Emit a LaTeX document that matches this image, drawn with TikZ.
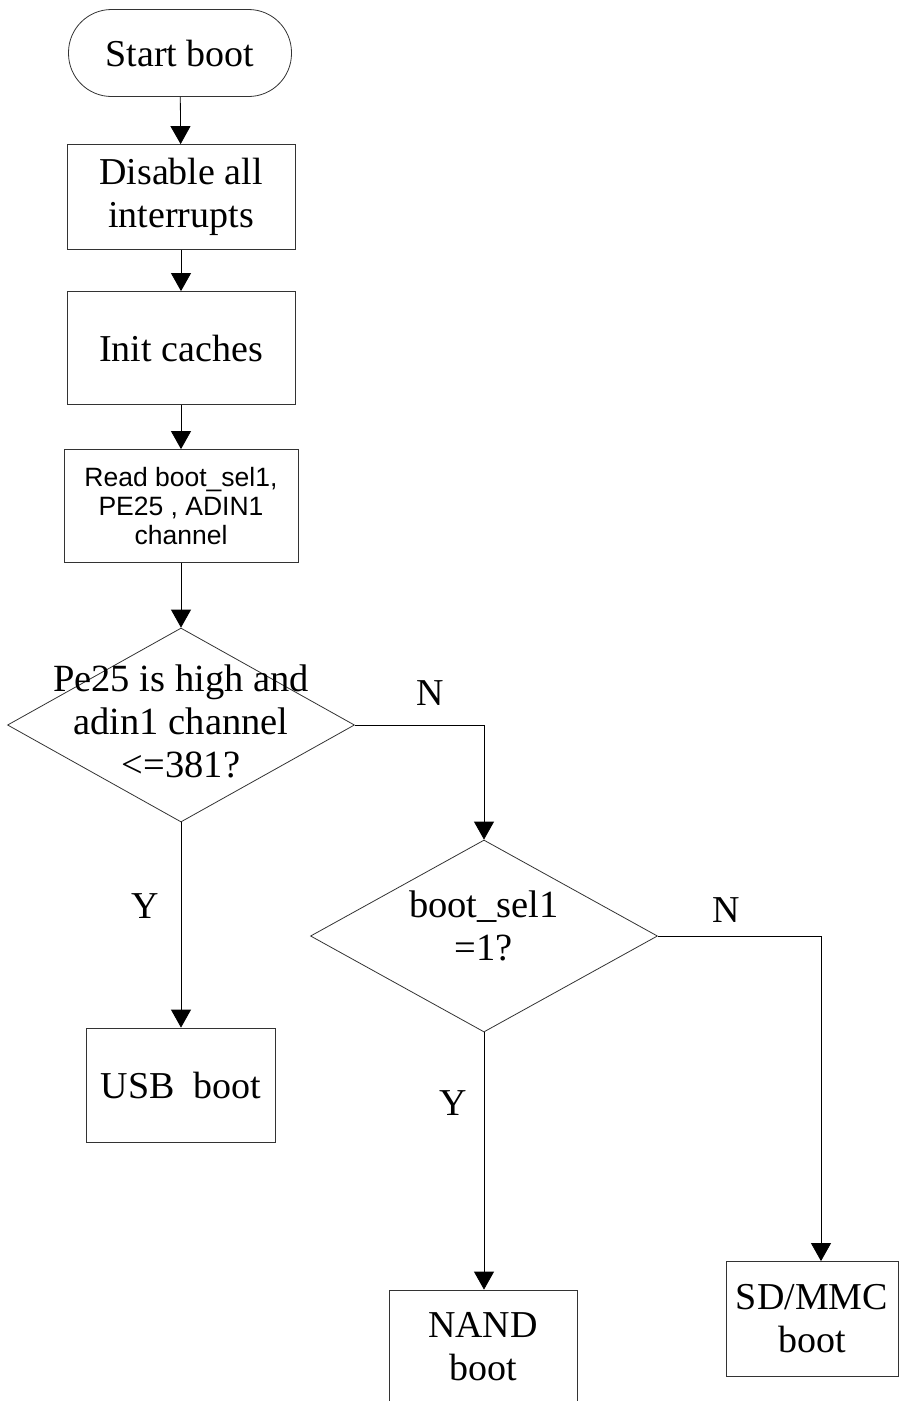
\documentclass[tikz,border=0pt]{standalone}
\usepackage{fontspec}
\setmainfont{Liberation Serif}
\newfontfamily\arialfont{Liberation Sans}
\usetikzlibrary{arrows.meta,shapes.geometric,positioning}
\tikzset{every picture/.style={line width=0.8pt}}
\tikzset{
  box/.style={draw=black!80, rectangle, inner sep=0pt, align=center, font=\fontsize{38}{43}\selectfont},
  decision/.style={draw=black!80, diamond, inner sep=0pt, minimum width=347pt, minimum height=194pt},
  dtext/.style={align=center, inner sep=0pt, font=\fontsize{38.5}{43}\selectfont},
  lbl/.style={font=\fontsize{38}{40}\selectfont},
  arr/.style={-{Triangle[length=18pt,width=20pt]}}
}

\begin{document}
\begin{tikzpicture}[x=1pt,y=-1pt]
    \useasboundingbox (0,0) rectangle (905,1401);

    % Start
    \node[box, rounded corners=43pt, minimum width=223pt, minimum height=87pt] (start) at (180,53) {Start boot};

    % Steps
    \node[box, minimum width=228pt, minimum height=105pt] (disable) at (181,197) {Disable all\\interrupts};
    \node[box, minimum width=228pt, minimum height=113pt] (cache) at (181,348) {Init caches};
    \node[box, minimum width=234pt, minimum height=113pt, font=\arialfont\fontsize{26.5}{29}\selectfont] (read) at (181,506) {Read boot\_sel1,\\PE25 , ADIN1\\channel};

    % First decision
    \node[decision] (usbq) at (181,725) {};
    \node[dtext] (usbqt) at (181,721) {Pe25 is high and\\adin1 channel\\<=381?};

    % Second decision
    \node[decision, minimum height=192pt] (nandq) at (484,936) {};
    \node[dtext] (nandqt) at (484,926) {boot\_sel1\\=1?};

    % Boot targets
    \node[box, minimum width=189pt, minimum height=114pt] (usb) at (181,1085) {USB~ boot};
    \node[box, minimum width=188pt, minimum height=114pt] (nand) at (483,1347) {NAND\\boot};
    \node[box, minimum width=172pt, minimum height=115pt] (sd) at (812,1319) {SD/MMC\\boot};

    % Connectors
    \draw[arr] (start) -- (disable);
    \draw[arr] (disable) -- (cache);
    \draw[arr] (cache) -- (read);
    \draw[arr] (read) -- (usbq);
    \draw[arr] (usbq.south) -- (usb);
    \draw[arr] (usbq.east) -| (nandq.north);
    \draw[arr] (nandq.south) -- (nandq.south |- nand.north);
    \draw[arr] (nandq.east) -| (sd.north -| 821,0);

    % Branch labels
    \node[lbl] (y1) at (145,906) {Y};
    \node[lbl] (n1) at (430,693) {N};
    \node[lbl] (y2) at (453,1103) {Y};
    \node[lbl] (n2) at (726,910) {N};
\end{tikzpicture}
\end{document}
